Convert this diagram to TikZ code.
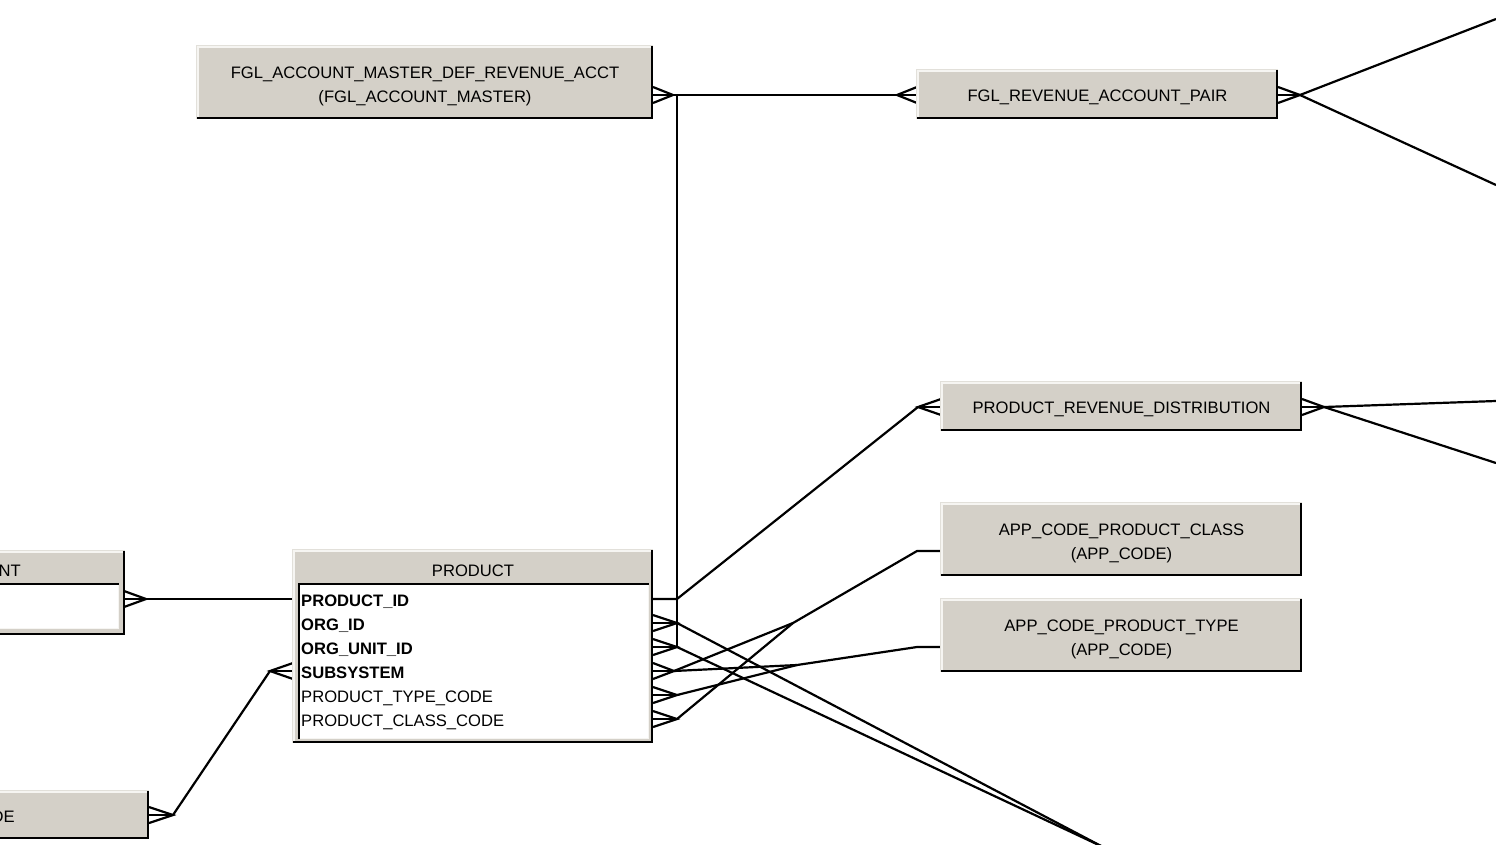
\documentclass[tikz,border=0pt]{standalone}
\usepackage{fontspec}
\setmainfont{Liberation Sans}
\usetikzlibrary{calc}
\definecolor{boxgray}{HTML}{D4D0C8}
\definecolor{edgelight}{HTML}{F6F5F2}
\definecolor{edgeouter}{HTML}{E2E0DA}
\tikzset{
  conn/.style={line width=2.2pt, black},
  lbl/.style={inner sep=0pt, font=\fontsize{16.6}{20}\selectfont, text=black},
  fld/.style={lbl, anchor=base west},
  fldb/.style={lbl, anchor=base west, font=\fontsize{16.6}{20}\selectfont\bfseries},
  boxnode/.style={fill=boxgray, inner sep=0pt, outer sep=0pt, anchor=north west},
  bodynode/.style={fill=white, inner sep=0pt, outer sep=0pt, anchor=north west},
}
\newcommand\crowfoot[2]{%
  \draw[conn] ($(#1)+(0,-8)$) -- (#2) -- ($(#1)+(0,8)$);
  \draw[conn] (#1) -- (#2);}
\newcommand\raisedbox[1]{%
  \draw[edgeouter, line width=1pt] ([xshift=-0.5pt]#1.south west) -- ([xshift=-0.5pt,yshift=0.5pt]#1.north west) -- ([yshift=0.5pt]#1.north east);
  \draw[edgelight, line width=1.5pt] ([xshift=0.75pt]#1.south west) -- ([xshift=0.75pt,yshift=-0.75pt]#1.north west) -- ([yshift=-0.75pt]#1.north east);
  \draw[black, line width=2.4pt] ([yshift=1.2pt]#1.south west) -- ([xshift=-1.2pt,yshift=1.2pt]#1.south east) -- ([xshift=-1.2pt]#1.north east);}
\newcommand\sunkenbox[1]{%
  \draw[edgelight, line width=1.5pt] ([yshift=0.75pt]#1.south west) -- ([xshift=-0.75pt,yshift=0.75pt]#1.south east) -- ([xshift=-0.75pt]#1.north east);
  \draw[black, line width=2.4pt] ([xshift=1.2pt]#1.south west) -- ([xshift=1.2pt,yshift=-1.2pt]#1.north west) -- ([yshift=-1.2pt]#1.north east);}
\begin{document}
\begin{tikzpicture}[x=1pt, y=-1pt]
\useasboundingbox (0,0) rectangle (1496,844);
\clip (0,0) rectangle (1496,844);

% ---------- coordinates ----------
\coordinate (famE) at (653,95);   \coordinate (famV) at (673,95);
\coordinate (frapW) at (917,95);  \coordinate (frapWV) at (897,95);
\coordinate (jtop) at (677,95);
\coordinate (frapE) at (1278,95); \coordinate (frapEV) at (1300,95);
\coordinate (offA) at (1496,19);  \coordinate (offB) at (1496,185);
\coordinate (prdW) at (941,407);  \coordinate (prdWV) at (918,407);
\coordinate (prdE) at (1302,407); \coordinate (prdEV) at (1324,407);
\coordinate (offC) at (1496,401); \coordinate (offD) at (1496,463);
\coordinate (acpcW) at (941,551); \coordinate (acpcS) at (917,551);
\coordinate (acptW) at (941,647); \coordinate (acptS) at (917,647);
\coordinate (mClass) at (793,623);
\coordinate (mType) at (797,665);
\coordinate (pidE) at (653,599);  \coordinate (pidV) at (677,599);
\coordinate (orgE) at (653,623);  \coordinate (orgV) at (677,623);
\coordinate (ouE) at (653,647);   \coordinate (ouV) at (677,647);
\coordinate (subE) at (653,671);  \coordinate (subV) at (674,671);
\coordinate (ptE) at (653,695);   \coordinate (ptV) at (677,695);
\coordinate (pcE) at (653,719);   \coordinate (pcV) at (677,719);
\coordinate (offE) at (1103,847);
\coordinate (pidW) at (293,599);
\coordinate (subW) at (293,671);  \coordinate (subWV) at (270,671);
\coordinate (ntE) at (124,599);   \coordinate (ntV) at (146,599);
\coordinate (deE) at (149,815);   \coordinate (deV) at (173,815);

% ---------- connectors ----------
\crowfoot{famE}{famV}
\crowfoot{frapW}{frapWV}
\draw[conn] (famV) -- (frapWV);
\draw[conn] (jtop) -- (ouV);
\crowfoot{frapE}{frapEV}
\draw[conn] (frapEV) -- (offA);
\draw[conn] (frapEV) -- (offB);

\draw[conn] (pidE) -- (pidV) -- (prdWV);
\crowfoot{prdW}{prdWV}
\crowfoot{prdE}{prdEV}
\draw[conn] (prdEV) -- (offC);
\draw[conn] (prdEV) -- (offD);

\crowfoot{orgE}{orgV}
\crowfoot{ouE}{ouV}
\draw[conn] (orgV) -- (offE);
\draw[conn] (ouV) -- (offE);

\crowfoot{subE}{subV}
\crowfoot{ptE}{ptV}
\crowfoot{pcE}{pcV}
\draw[conn] (subV) -- (mClass) -- (acpcS) -- (acpcW);
\draw[conn] (pcV) -- (mClass);
\draw[conn] (subV) -- (mType) -- (acptS) -- (acptW);
\draw[conn] (ptV) -- (mType);

\crowfoot{ntE}{ntV}
\draw[conn] (ntV) -- (pidW);
\crowfoot{subW}{subWV}
\crowfoot{deE}{deV}
\draw[conn] (subWV) -- (deV);

% ---------- boxes ----------
\node[boxnode, minimum width=456pt, minimum height=73pt] (fam) at (197,46) {};
\raisedbox{fam}
\node[lbl, anchor=base] (famt1) at (425,78) {FGL\_ACCOUNT\_MASTER\_DEF\_REVENUE\_ACCT};
\node[lbl, anchor=base] (famt2) at (425,102) {(FGL\_ACCOUNT\_MASTER)};

\node[boxnode, minimum width=361pt, minimum height=49pt] (frap) at (917,70) {};
\raisedbox{frap}
\node[lbl, anchor=base] (frapt) at (1097.5,101) {FGL\_REVENUE\_ACCOUNT\_PAIR};

\node[boxnode, minimum width=361pt, minimum height=49pt] (prd) at (941,382) {};
\raisedbox{prd}
\node[lbl, anchor=base] (prdt) at (1121.5,413) {PRODUCT\_REVENUE\_DISTRIBUTION};

\node[boxnode, minimum width=361pt, minimum height=73pt] (acpc) at (941,503) {};
\raisedbox{acpc}
\node[lbl, anchor=base] (acpct1) at (1121.5,535) {APP\_CODE\_PRODUCT\_CLASS};
\node[lbl, anchor=base] (acpct2) at (1121.5,559) {(APP\_CODE)};

\node[boxnode, minimum width=361pt, minimum height=73pt] (acpt) at (941,599) {};
\raisedbox{acpt}
\node[lbl, anchor=base] (acptt1) at (1121.5,631) {APP\_CODE\_PRODUCT\_TYPE};
\node[lbl, anchor=base] (acptt2) at (1121.5,655) {(APP\_CODE)};

\node[boxnode, minimum width=360pt, minimum height=193pt] (prod) at (293,550) {};
\raisedbox{prod}
\node[bodynode, minimum width=351pt, minimum height=156pt] (prodbody) at (298,583) {};
\sunkenbox{prodbody}
\node[lbl, anchor=base] (prodt) at (473,576) {PRODUCT};
\node[fldb] (f1) at (301,606) {PRODUCT\_ID};
\node[fldb] (f2) at (301,630) {ORG\_ID};
\node[fldb] (f3) at (301,654) {ORG\_UNIT\_ID};
\node[fldb] (f4) at (301,678) {SUBSYSTEM};
\node[fld] (f5) at (301,702) {PRODUCT\_TYPE\_CODE};
\node[fld] (f6) at (301,726) {PRODUCT\_CLASS\_CODE};

\node[boxnode, minimum width=136pt, minimum height=84pt] (nt) at (-11,551) {};
\raisedbox{nt}
\node[bodynode, minimum width=130pt, minimum height=46pt] (ntbody) at (-11,583) {};
\sunkenbox{ntbody}
\node[lbl, anchor=base east] (ntt) at (21,576) {NT};

\node[boxnode, minimum width=160pt, minimum height=48pt] (de) at (-11,791) {};
\raisedbox{de}
\node[lbl, anchor=base east] (det) at (15,822) {DE};
\end{tikzpicture}
\end{document}
